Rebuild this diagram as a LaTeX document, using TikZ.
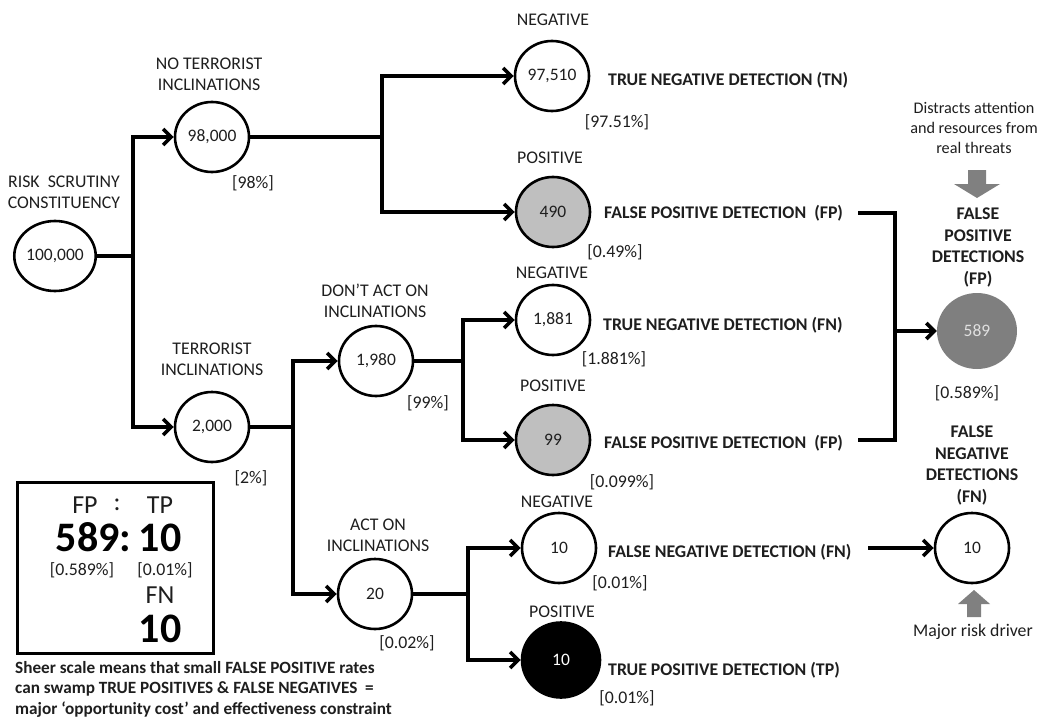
\documentclass[tikz,border=0pt]{standalone}
\usepackage{fontspec}
\setmainfont{Carlito}
\usetikzlibrary{arrows.meta,shapes.geometric}
\definecolor{lgray}{HTML}{BFBFBF}
\definecolor{dgray}{HTML}{7F7F7F}
\definecolor{agray}{HTML}{808080}
\definecolor{txtc}{HTML}{1E1E1E}
\begin{document}
\begin{tikzpicture}[x=1pt,y=-1pt,
  txt/.style={inner sep=0pt, font=\fontsize{17.8}{21}\selectfont, text=txtc, align=center},
  btxt/.style={inner sep=0pt, font=\fontsize{17.8}{21.5}\selectfont\bfseries, text=txtc, align=center},
  circ/.style={ellipse, draw, line width=2.6pt, minimum width=74pt, minimum height=70pt, inner sep=0pt, font=\fontsize{17.5}{20}\selectfont, text=txtc},
  conn/.style={line width=3.6pt, line join=miter},
  arr/.style={conn, -{Straight Barb[length=8pt,width=16pt]}},
]
\useasboundingbox (0,0) rectangle (1044,717);

% circles
\node[circ] (root) at (55,256) {100,000};
\node[circ] (n98) at (212,137) {98,000};
\node[circ] (n2000) at (212,427) {2,000};
\node[circ] (n97510) at (552,76) {97,510};
\node[circ, fill=lgray] (n490) at (553,212) {490};
\node[circ] (n1980) at (376,361) {1,980};
\node[circ] (n1881) at (553,320) {1,881};
\node[circ, fill=lgray] (n99) at (553,440) {99};
\node[circ] (n20) at (375,594) {20};
\node[circ] (n10) at (559,548) {10};
\node[circ, fill=black, text=white, minimum width=78pt, minimum height=75pt] (nTP) at (561,660) {10};
\node[ellipse, fill=dgray, minimum width=80pt, minimum height=76pt, inner sep=0pt, font=\fontsize{17.5}{20}\selectfont, text=black!12] (n589) at (977,331) {589};
\node[circ] (nFN) at (972,548) {10};

% labels
\node[txt] (lroot) at (64,192) {RISK\ \ SCRUTINY\\CONSTITUENCY};
\node[txt] (l98) at (209,74.5) {NO TERRORIST\\INCLINATIONS};
\node[txt] (p98) at (253,183) {[98\%]};
\node[txt] (l2000) at (212,359.5) {TERRORIST\\INCLINATIONS};
\node[txt] (p2000) at (251,478) {[2\%]};
\node[txt] (l97510) at (553,20) {NEGATIVE};
\node[btxt, anchor=west] (tn) at (608,80) {TRUE NEGATIVE DETECTION (TN)};
\node[txt] (p97510) at (617,122) {[97.51\%]};
\node[txt] (l490) at (550,158) {POSITIVE};
\node[btxt, anchor=west] (fp1) at (604,213) {FALSE POSITIVE DETECTION\ \ (FP)};
\node[txt] (p490) at (615,252) {[0.49\%]};
\node[txt] (l1980) at (375,300.5) {DON’T ACT ON\\INCLINATIONS};
\node[txt] (p1980) at (428,403) {[99\%]};
\node[txt] (l1881) at (552,273) {NEGATIVE};
\node[btxt, anchor=west] (tnfn) at (603,325) {TRUE NEGATIVE DETECTION (FN)};
\node[txt] (p1881) at (614,359) {[1.881\%]};
\node[txt] (l99) at (553,386) {POSITIVE};
\node[btxt, anchor=west] (fp2) at (604,443) {FALSE POSITIVE DETECTION\ \ (FP)};
\node[txt] (p99) at (622,482) {[0.099\%]};
\node[txt] (l20) at (378,535) {ACT ON\\INCLINATIONS};
\node[txt] (p20) at (407,643) {[0.02\%]};
\node[txt] (l10) at (557,502) {NEGATIVE};
\node[btxt, anchor=west] (fn) at (608,552) {FALSE NEGATIVE DETECTION (FN)};
\node[txt] (p10) at (620,583) {[0.01\%]};
\node[txt] (lTP) at (562,612) {POSITIVE};
\node[btxt, anchor=west] (tp) at (608,670) {TRUE POSITIVE DETECTION (TP)};
\node[txt] (pTP) at (627,698) {[0.01\%]};

\node[txt, font=\fontsize{16.2}{20}\selectfont] (distr) at (974,128) {Distracts attention\\and resources from\\real threats};
\node[btxt] (l589) at (978,247.5) {FALSE\\POSITIVE\\DETECTIONS\\(FP)};
\node[txt] (p589) at (967,393) {[0.589\%]};
\node[btxt] (lFN) at (972,465.5) {FALSE\\NEGATIVE\\DETECTIONS\\(FN)};
\node[txt] (major) at (973,632) {Major risk driver};

% gray arrows
\fill[agray] (968,170) -- (986,170) -- (986,184) -- (1000,184) -- (977,198) -- (954,184) -- (968,184) -- cycle;
\fill[agray] (974,590) -- (990,604) -- (981,604) -- (981,617) -- (967,617) -- (967,604) -- (958,604) -- cycle;

% junctions
\coordinate (j1) at (133,256);
\coordinate (j2) at (293,427);
\coordinate (j3) at (382,137);
\coordinate (j4) at (463,361);
\coordinate (j5) at (468,594);
\coordinate (fpa) at (858,213);
\coordinate (fpb) at (895,213);
\coordinate (fpc) at (895,440);
\coordinate (fpd) at (858,440);
\coordinate (fpm) at (895,331);
\coordinate (fna) at (868,548);

\draw[conn] (root) -- (j1);
\draw[arr] (j1) |- (n98);
\draw[arr] (j1) |- (n2000);
\draw[conn] (n98) -- (j3);
\draw[arr] (j3) |- (n97510);
\draw[arr] (j3) |- (n490);
\draw[conn] (n2000) -- (j2);
\draw[arr] (j2) |- (n1980);
\draw[arr] (j2) |- (n20);
\draw[conn] (n1980) -- (j4);
\draw[arr] (j4) |- (n1881);
\draw[arr] (j4) |- (n99);
\draw[conn] (n20) -- (j5);
\draw[arr] (j5) |- (n10);
\draw[arr] (j5) |- (nTP);
\draw[conn] (fpa) -- (fpb) -- (fpc) -- (fpd);
\draw[arr] (fpm) -- (n589);
\draw[arr] (fna) -- (nFN);

% summary box
\node[draw, line width=3pt, minimum width=196pt, minimum height=171pt, inner sep=0pt] (box) at (115,567.5) {};
\node[inner sep=0pt, font=\fontsize{26}{28}\selectfont, text=txtc] (bfp) at (85,505) {FP};
\node[inner sep=0pt, font=\fontsize{26}{28}\selectfont, text=txtc] (bcol) at (117,505) {:};
\node[inner sep=0pt, font=\fontsize{26}{28}\selectfont, text=txtc] (btp) at (160,505) {TP};
\node[inner sep=0pt, font=\fontsize{42}{44}\selectfont\bfseries, anchor=base] (b589) at (93.5,551) {589:};
\node[inner sep=0pt, font=\fontsize{42}{44}\selectfont\bfseries, anchor=base] (b10) at (160,551) {10};
\node[txt] (bp1) at (82,570) {[0.589\%]};
\node[txt] (bp2) at (165,570) {[0.01\%]};
\node[inner sep=0pt, font=\fontsize{26}{28}\selectfont, text=txtc] (bfn) at (160,595) {FN};
\node[inner sep=0pt, font=\fontsize{42}{44}\selectfont\bfseries, anchor=base] (b10b) at (160,642) {10};

\node[btxt, align=left, anchor=west, font=\fontsize{17.2}{20.5}\selectfont\bfseries] (note) at (15,689) {Sheer scale means that small FALSE POSITIVE rates\\can swamp TRUE POSITIVES \& FALSE NEGATIVES\ \ =\\major ‘opportunity cost’ and effectiveness constraint};
\end{tikzpicture}
\end{document}
